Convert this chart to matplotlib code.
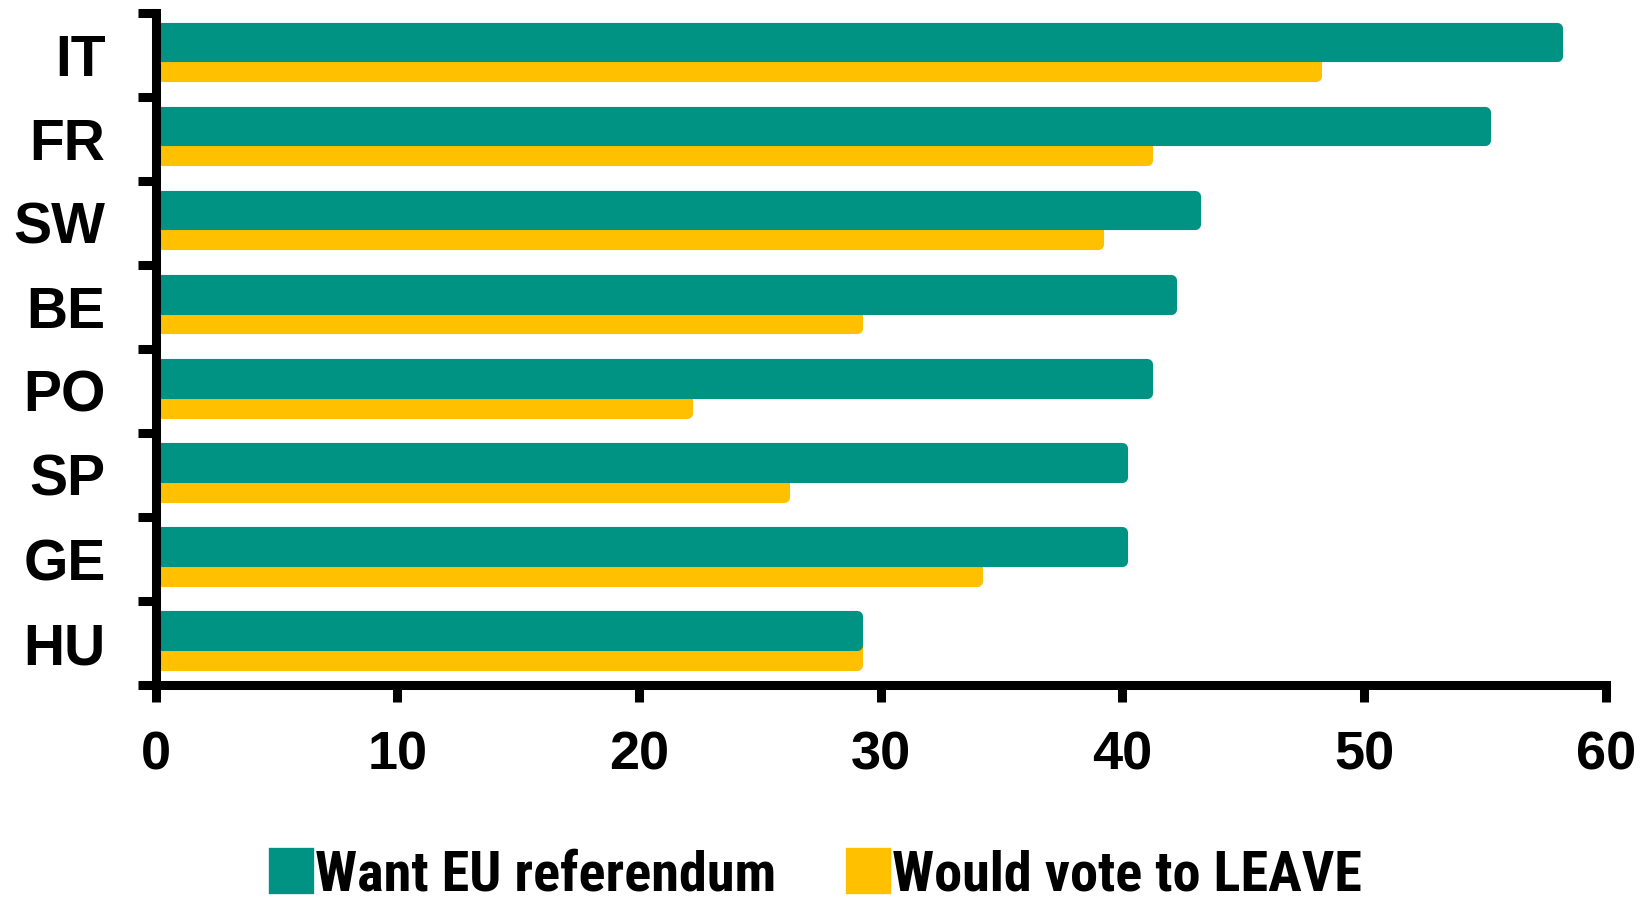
import numpy as np
import matplotlib.pyplot as plt
from matplotlib.patches import Patch

# Dados
paises = ["IT", "FR", "SW", "BE", "PO", "SP", "GE", "HU"]
quer_referendo = [58, 55, 43, 42, 41, 40, 40, 29]
votaria_sair = [48, 41, 39, 29, 22, 26, 34, 29]
rotulos_series = ["Want EU referendum", "Would vote to LEAVE"]
ticks_x = [0, 10, 20, 30, 40, 50, 60]

cor_verde = "#009384"
cor_amarela = "#FFC000"

fig = plt.figure(figsize=(16.48, 9.01), dpi=100)
ax = fig.add_axes([0.0944, 0.2397, 0.880, 0.746])

y = np.arange(len(paises))
altura = 0.335
borda = 8  # borda grossa com junção redonda -> cantos arredondados

# amarelo primeiro, verde por cima (sobreposição)
ax.barh(y + 0.089, votaria_sair, height=altura, color=cor_amarela,
        edgecolor=cor_amarela, linewidth=borda, joinstyle="round", zorder=1)
ax.barh(y - 0.149, quer_referendo, height=altura, color=cor_verde,
        edgecolor=cor_verde, linewidth=borda, joinstyle="round", zorder=1.5)

ax.set_xlim(0, 60)
ax.set_ylim(len(paises) - 0.5, -0.5)

ax.set_xticks(ticks_x)
ax.set_xticklabels([str(t) for t in ticks_x], fontsize=39, fontweight="bold",
                   family="Liberation Sans")
ax.set_yticks(y)
ax.set_yticklabels(paises, fontsize=41, fontweight="bold", family="Liberation Sans")
ax.set_yticks(np.arange(len(paises) + 1) - 0.5, minor=True)

ax.tick_params(axis="y", which="major", length=0, pad=36)
ax.tick_params(axis="y", which="minor", length=13, width=6.5, direction="out")
ax.tick_params(axis="x", which="major", length=12, width=6.5, pad=21, direction="out")

for lado in ["top", "right"]:
    ax.spines[lado].set_visible(False)
for lado in ["left", "bottom"]:
    ax.spines[lado].set_linewidth(6.5)
    ax.spines[lado].set_capstyle("projecting")
    ax.spines[lado].set_zorder(3)

handles = [Patch(facecolor=cor_verde, edgecolor=cor_verde, linewidth=6, joinstyle="round"),
           Patch(facecolor=cor_amarela, edgecolor=cor_amarela, linewidth=6, joinstyle="round")]
fig.legend(handles, rotulos_series, loc="center", bbox_to_anchor=(0.496, 0.028),
           ncol=2, frameon=False, handlelength=0.66, handleheight=0.66,
           handletextpad=0.1, columnspacing=1.3,
           prop={"family": ["Roboto Condensed", "Liberation Sans"],
                 "weight": "bold", "size": 40.5})

fig.savefig("out.png", dpi=100)
